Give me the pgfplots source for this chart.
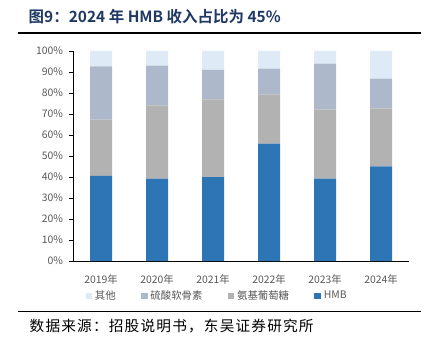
\documentclass[border=0pt]{standalone}
\usepackage{pgfplots}
\pgfplotsset{compat=1.18}
\usepackage{fontspec}
\setmainfont{Noto Sans CJK SC}
\newfontfamily\titlefont{Noto Sans CJK SC Bold}
\newfontfamily\srcfont[LetterSpace=8]{Noto Sans CJK SC}
\definecolor{cHMB}{HTML}{2E75B6}
\definecolor{cGlu}{HTML}{B2B2B2}
\definecolor{cChon}{HTML}{ADB9CA}
\definecolor{cOth}{HTML}{DEEBF7}
\definecolor{tickgray}{HTML}{595959}
\definecolor{titleblue}{HTML}{1F3864}
\begin{document}
\begin{tikzpicture}[x=0.75pt,y=0.75pt]
\path[fill=white] (0,0) rectangle (427,343);
% title
\node[anchor=west,text=titleblue,font=\titlefont\fontsize{11.6pt}{13pt}\selectfont] at (24,326) {图9：2024 年 HMB 收入占比为 45\%};
\draw[line width=1.1pt] (18,310) -- (421,310);
\draw[line width=1.1pt] (18,31.5) -- (421,31.5);
\node[anchor=west,font=\srcfont\fontsize{11pt}{13pt}\selectfont] at (25,17) {数据来源：招股说明书，东吴证券研究所};
\begin{axis}[
  at={(54.75pt,61.5pt)}, anchor=south west,
  scale only axis, width=252pt, height=157.5pt,
  ybar stacked, bar width=16.5pt,
  xmin=-0.5, xmax=5.5, ymin=0, ymax=100,
  axis x line*=bottom, axis y line*=left,
  axis line style={black, line width=0.6pt},
  xtick={0,1,2,3,4,5},
  xticklabels={2019年,2020年,2021年,2022年,2023年,2024年},
  extra x ticks={0.5,1.5,2.5,3.5,4.5,5.5},
  extra x tick labels={},
  extra x tick style={major tick length=3pt, tick style={black,line width=0.6pt}, tick align=outside},
  major x tick style={draw=none},
  ytick={0,10,...,100},
  yticklabels={0\%,10\%,20\%,30\%,40\%,50\%,60\%,70\%,80\%,90\%,100\%},
  y tick style={black,line width=0.6pt},
  tick align=outside, major tick length=3pt,
  ticklabel style={font=\fontsize{7.8pt}{9pt}\selectfont, text=tickgray},
  xticklabel style={yshift=-4pt},
  yticklabel style={xshift=-1pt},
  legend style={at={(0.43,-0.167)}, anchor=center, draw=none, fill=none,
    legend columns=4, font=\fontsize{7.8pt}{9pt}\selectfont, text=tickgray,
    /tikz/every even column/.append style={column sep=17pt},
    legend cell align=left},
  legend image code/.code={\fill[#1] (0pt,-2.5pt) rectangle (5pt,2.5pt);},
  reverse legend,
]
\addplot[fill=cHMB, draw=none] coordinates {(0,40.5) (1,39.2) (2,39.9) (3,55.9) (4,39.2) (5,45.1)};
\addplot[fill=cGlu, draw=none] coordinates {(0,26.8) (1,34.9) (2,37.1) (3,23.5) (4,33.0) (5,27.6)};
\addplot[fill=cChon, draw=none] coordinates {(0,25.4) (1,18.9) (2,14.0) (3,12.2) (4,21.8) (5,14.1)};
\addplot[fill=cOth, draw=none] coordinates {(0,7.3) (1,7.0) (2,9.0) (3,8.4) (4,6.0) (5,13.2)};
\legend{HMB,氨基葡萄糖,硫酸软骨素,其他}
\node[text=white, font=\fontsize{7.8pt}{9pt}\selectfont] at (axis cs:5,22.4) {45\%};
\end{axis}
\end{tikzpicture}
\end{document}
